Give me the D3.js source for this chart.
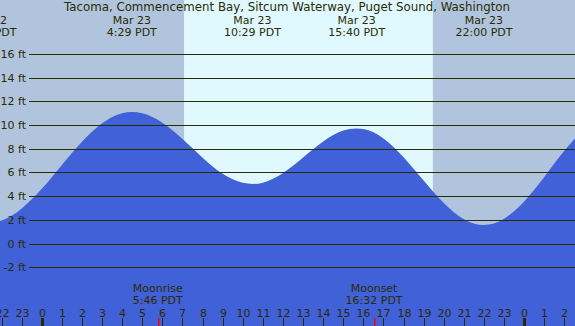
<!DOCTYPE html>
<html>
<head>
<meta charset="utf-8">
<script src="https://cdn.jsdelivr.net/npm/d3@7"></script>
<style>
  html, body { margin: 0; padding: 0; background: #fff; }
  svg { display: block; }
  text { font-family: "DejaVu Sans", sans-serif; fill: #2b2b00; }
</style>
</head>
<body>
<svg id="chart" width="575" height="326"></svg>
<script>
// ---- data ----
const title = "Tacoma, Commencement Bay, Sitcum Waterway, Puget Sound, Washington";
const tideHours   = [-3, -2, -1, 0, 1, 2, 3, 4, 5, 6, 7, 8, 9, 10, 11, 12, 13, 14, 15, 16, 17, 18, 19, 20, 21, 22, 23, 24, 25, 26, 27];
const tideHeights = [1.80, 1.96, 2.97, 4.62, 6.63, 8.59, 10.15, 11.0, 10.99, 10.19, 8.82, 7.25, 5.89, 5.13, 5.14, 5.95, 7.27, 8.62, 9.53, 9.66, 8.87, 7.29, 5.32, 3.43, 2.07, 1.58, 2.11, 3.56, 5.62, 7.83, 9.70];
// high / low labels
const eventDays  = ["Mar 22", "Mar 23", "Mar 23", "Mar 23", "Mar 23"];
const eventTimes = ["21:19 PDT", "4:29 PDT", "10:29 PDT", "15:40 PDT", "22:00 PDT"];
const eventHours = [-2.68, 4.48, 10.48, 15.67, 22.0];
// sun / moon
const sunriseHour = 7.09, sunsetHour = 19.46;
const moonNames = ["Moonrise", "Moonset"];
const moonTimes = ["5:46 PDT", "16:32 PDT"];
const moonHours = [5.767, 16.533];
// axes
const yTicks = [16, 14, 12, 10, 8, 6, 4, 2, 0, -2];
const hourTicks = d3.range(-2, 27);
const startHour = -2.08, endHour = 26.53;

// ---- drawing ----
const W = 575, H = 326;
const svg = d3.select("#chart");
const x = d3.scaleLinear().domain([startHour, endHour]).range([0, W]);
const y = d3.scaleLinear().domain([0, 16]).range([243.7, 53.8]);

const nightColor = "#b0c4de", dayColor = "#e0f8ff", waterColor = "#4161d8", ink = "#2b2b00";

// background: night / day / night
svg.append("rect").attr("x", 0).attr("y", 0).attr("width", x(sunriseHour)).attr("height", H).attr("fill", nightColor);
svg.append("rect").attr("x", x(sunriseHour)).attr("y", 0).attr("width", x(sunsetHour) - x(sunriseHour)).attr("height", H).attr("fill", dayColor);
svg.append("rect").attr("x", x(sunsetHour)).attr("y", 0).attr("width", W - x(sunsetHour)).attr("height", H).attr("fill", nightColor);

// tide area
const pts = tideHours.map((h, i) => [h, tideHeights[i]]);
const area = d3.area()
  .x(d => x(d[0]))
  .y0(H)
  .y1(d => y(d[1]))
  .curve(d3.curveNatural);
svg.append("path").datum(pts).attr("d", area).attr("fill", waterColor);

// grid lines + y labels
const yAxis = svg.append("g");
yTicks.forEach(t => {
  const yy = Math.round(y(t)) + 0.5;
  yAxis.append("line").attr("x1", 29).attr("x2", W).attr("y1", yy).attr("y2", yy)
    .attr("stroke", ink).attr("stroke-width", 1);
  yAxis.append("text").attr("x", 26).attr("y", yy).attr("dy", "0.36em")
    .attr("text-anchor", "end").attr("font-size", 11).text(t + " ft");
});

// title
svg.append("text").attr("x", 287).attr("y", 11).attr("text-anchor", "middle")
  .attr("font-size", 11.8).text(title);

// high/low labels
eventHours.forEach((h, i) => {
  svg.append("text").attr("x", x(h)).attr("y", 23.5).attr("text-anchor", "middle")
    .attr("font-size", 11).text(eventDays[i]);
  svg.append("text").attr("x", x(h)).attr("y", 35.5).attr("text-anchor", "middle")
    .attr("font-size", 11).text(eventTimes[i]);
});

// hour ticks + labels
hourTicks.forEach(h => {
  const xx = Math.round(x(h));
  const midnight = ((h % 24) + 24) % 24 === 0;
  svg.append("rect").attr("x", midnight ? xx - 1 : xx).attr("y", 318)
    .attr("width", midnight ? 3 : 1).attr("height", 8).attr("fill", ink);
  svg.append("text").attr("x", xx + 0.5).attr("y", 317).attr("text-anchor", "middle")
    .attr("font-size", 11).text(((h % 24) + 24) % 24);
});

// moon events
moonHours.forEach((h, i) => {
  const xx = Math.round(x(h));
  svg.append("rect").attr("x", xx).attr("y", 318).attr("width", 1.5).attr("height", 8).attr("fill", "#ff0000");
  svg.append("text").attr("x", x(h)).attr("y", 292).attr("text-anchor", "middle")
    .attr("font-size", 11).text(moonNames[i]);
  svg.append("text").attr("x", x(h)).attr("y", 303.5).attr("text-anchor", "middle")
    .attr("font-size", 11).text(moonTimes[i]);
});
</script>
</body>
</html>
